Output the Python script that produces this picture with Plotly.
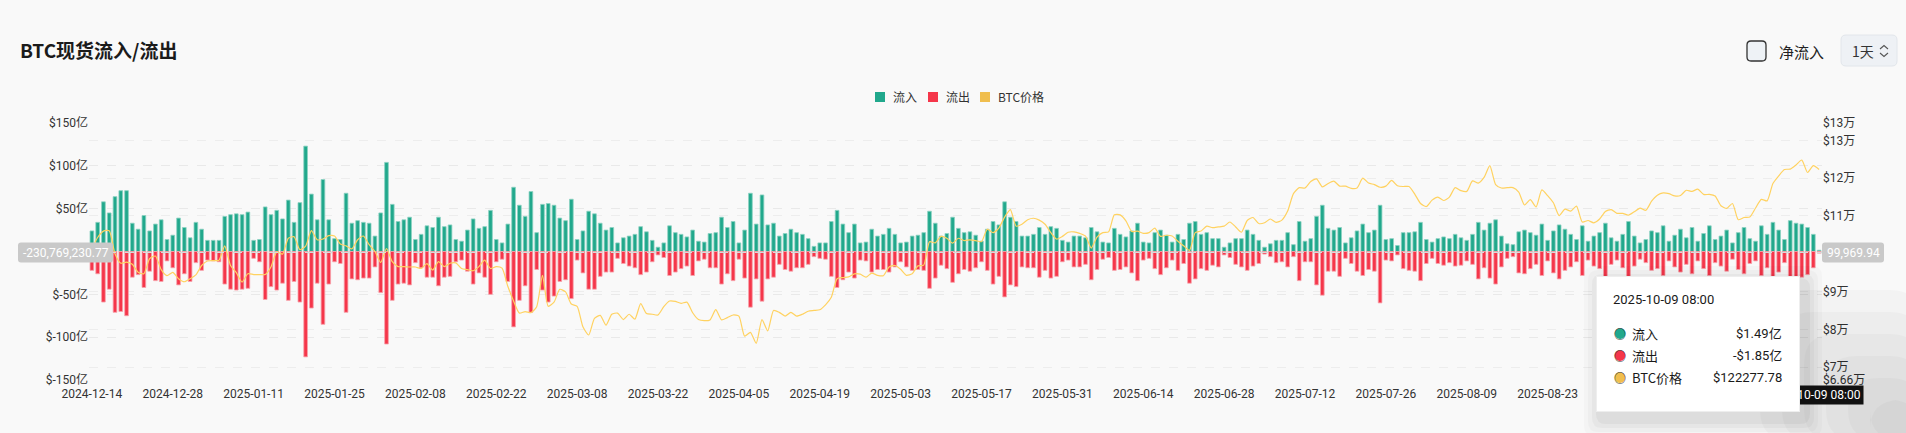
import plotly.graph_objects as go
import pandas as pd

# ---------------- data ----------------
dates = pd.date_range("2024-12-14", "2025-10-09", freq="D").strftime("%Y-%m-%d").tolist()

# inflow / outflow in 亿 USD
inflow = [
    24, 34, 58, 45, 64, 71, 71, 33, 26, 42, 24, 32, 37, 14, 19, 39, 28, 16, 34, 26,
    13, 13, 13, 41, 43, 44, 43, 46, 13, 14, 52, 43,
    48, 38, 60, 34, 57, 123, 67, 37, 84, 37, 15, 14, 68, 33, 36, 34, 33, 18, 45, 104,
    55, 35, 37, 40, 14, 20, 30, 28, 40, 29, 31, 14, 12, 25, 38,
    27, 29, 48, 14, 10, 32, 75, 54, 41, 70, 22, 55, 56, 54, 39, 36, 61, 14, 24, 47,
    44, 33, 25, 28, 10, 16, 18, 20, 29, 23, 13, 5, 10, 30, 22, 20,
    17, 25, 12, 11, 21, 22, 40, 28, 35, 10, 25, 68, 32, 66, 31, 33, 18, 21, 26, 22,
    20, 15, 6, 10, 10, 35, 48, 32, 22, 32, 10, 11, 26, 18, 20,
    27, 20, 10, 11, 18, 19, 22, 47, 33, 18, 21, 40, 27, 22, 23, 19, 12, 26, 35, 31,
    58, 40, 35, 18, 18, 20, 28, 20, 29, 27, 13, 11, 18, 18, 16, 28,
    23, 11, 10, 27, 20, 17, 24, 33, 11, 10, 22, 25, 19, 11, 20, 14, 33, 35, 20, 22,
    15, 15, 5, 10, 15, 15, 25, 20, 13, 5, 9, 13, 13, 22, 8,
    35, 12, 15, 41, 54, 27, 25, 28, 10, 16, 24, 32, 22, 25, 54, 14, 15, 7, 22, 22,
    23, 34, 14, 11, 15, 17, 15, 20, 16, 13, 20, 34, 25, 33, 37, 18,
    9, 8, 23, 25, 22, 19, 32, 13, 24, 31, 26,
    20, 14, 30, 12, 18, 22, 33, 16, 12, 20, 35, 18, 10, 14, 24, 22, 30, 12, 19, 26,
    16, 28, 12, 21, 30, 14, 18, 25, 10, 22, 28, 15, 12, 30, 20, 34, 25, 14, 36, 33,
    32, 28, 20, 1.49,
]
outflow = [
    -22, -26, -59, -44, -71, -70, -75, -30, -27, -42, -23, -34, -35, -11, -19, -39, -26, -35, -13, -22,
    -10, -11, -12, -38, -44, -45, -44, -43, -8, -12, -56, -41,
    -45, -37, -57, -35, -59, -123, -66, -37, -85, -38, -12, -14, -71, -32, -33, -31, -31, -18, -48, -108,
    -57, -38, -37, -39, -13, -19, -30, -30, -40, -30, -29, -12, -10, -23, -38,
    -25, -30, -50, -12, -9, -35, -88, -57, -40, -71, -21, -45, -59, -52, -35, -33, -55, -10, -25, -44,
    -44, -29, -24, -24, -8, -14, -17, -19, -27, -24, -12, -4, -7, -28, -24, -20,
    -17, -28, -11, -9, -19, -19, -38, -26, -34, -9, -31, -65, -32, -58, -32, -30, -15, -21, -23, -19,
    -19, -15, -6, -8, -9, -29, -42, -33, -24, -31, -10, -11, -24, -21, -21,
    -24, -18, -12, -18, -22, -21, -22, -43, -31, -16, -20, -36, -26, -21, -23, -19, -12, -22, -38, -29,
    -53, -39, -41, -18, -19, -19, -30, -22, -31, -29, -12, -10, -18, -18, -15, -33,
    -21, -9, -7, -22, -21, -18, -25, -34, -10, -8, -20, -27, -19, -10, -22, -14, -37, -32, -20, -22,
    -16, -18, -4, -7, -15, -18, -22, -17, -14, -3, -6, -13, -12, -18, -6,
    -34, -12, -12, -39, -51, -23, -23, -29, -8, -14, -23, -28, -21, -23, -60, -10, -11, -4, -20, -22,
    -23, -34, -14, -8, -14, -16, -13, -17, -16, -11, -15, -32, -19, -31, -38, -18,
    -8, -6, -25, -26, -20, -15, -28, -11, -25, -32, -22,
    -18, -12, -28, -10, -17, -20, -30, -15, -10, -19, -32, -17, -9, -13, -22, -20, -28, -11, -18, -24,
    -15, -26, -11, -20, -28, -13, -17, -23, -9, -21, -26, -14, -11, -28, -19, -31, -24, -13, -34, -31,
    -30, -27, -19, -1.85,
]
# BTC price in thousands USD
price_k = [
    101.4, 104.3, 106.0, 106.1, 100.0, 97.5, 97.8, 97.2, 95.1, 94.7, 98.7, 99.4, 95.8, 94.2, 95.1, 93.4, 92.6, 93.4,
    94.4, 96.9, 98.1, 98.2, 98.3, 102.1, 96.9, 95.0, 92.5, 94.7, 94.5, 94.5, 94.5, 96.5, 100.5, 99.9, 104.1, 104.5,
    101.1, 102.0, 106.1, 103.7, 103.9, 104.8, 104.7, 102.6, 102.1, 101.3, 103.7, 104.7, 102.4,
    100.6, 97.7, 101.4, 97.9, 96.6, 96.6, 96.5, 96.5, 96.1, 97.4, 95.7, 97.9, 96.6, 97.5, 97.6, 96.1, 95.8, 95.5,
    96.6, 98.3, 96.1, 96.6, 96.2, 91.4, 87.5, 84.3, 84.7, 84.4,
    86.0, 94.3, 86.1, 87.2, 90.6, 89.9, 86.7, 86.1, 80.7, 78.5, 82.9, 83.7, 81.1, 84.0, 84.3, 82.6, 84.0, 82.7,
    86.8, 84.2, 84.0, 83.8, 86.0, 87.5, 87.4, 86.9, 87.2, 84.4, 82.6, 82.3, 82.5,
    85.2, 82.5, 83.1, 83.8, 83.5, 78.2, 79.2, 76.3, 82.6, 79.6, 85.0, 84.5, 83.5, 84.5, 83.5, 84.0, 84.8, 85.0,
    85.2, 86.5, 88.5, 93.4, 93.7, 93.9, 94.7, 94.6, 93.8, 94.9, 94.3, 94.2,
    96.5, 96.9, 95.9, 94.3, 94.7, 96.8, 97.0, 103.2, 102.9, 104.6, 104.1, 102.8, 104.1, 103.5, 103.7, 103.5, 103.2,
    106.5, 105.6, 106.8, 109.7, 111.7, 107.3, 107.8, 109.0, 109.4, 108.9, 107.8, 105.6, 103.9, 104.6,
    105.7, 105.8, 105.4, 104.7, 101.5, 104.4, 105.6, 105.8, 110.3, 110.3, 108.7, 105.9, 106.0, 105.4, 105.6, 106.8,
    104.6, 104.9, 104.7, 103.3, 102.1, 100.9, 105.6, 106.0, 107.3, 106.9, 107.1, 107.3, 108.4, 107.1,
    105.7, 108.8, 109.6, 108.0, 108.2, 109.2, 108.3, 108.9, 111.3, 115.9, 117.5, 117.4, 119.1, 119.8, 117.7, 118.6,
    119.2, 117.9, 117.9, 117.3, 117.4, 120.0, 118.7, 118.3, 117.6, 117.9, 119.4, 118.0, 117.8, 117.8, 115.8,
    113.3, 112.5, 114.2, 115.0, 114.1, 115.0, 117.5, 116.7, 116.5, 119.3, 118.7, 120.2, 123.3, 118.3, 117.4, 117.5,
    117.5, 116.3, 112.9, 114.3, 112.4, 116.9, 115.4, 113.5, 110.1, 111.8, 111.3, 112.6, 108.4, 108.8, 108.2,
    109.2, 111.2, 111.7, 110.7, 110.7, 110.2, 111.1, 112.1, 111.5, 113.9, 115.5, 116.1, 115.9, 115.3, 115.4, 116.8,
    116.5, 117.1, 115.7, 115.7, 115.3, 112.7, 112.0, 113.3, 109.0, 109.6, 109.7, 112.1, 114.4, 114.0,
    118.6, 120.6, 122.3, 122.4, 123.5, 124.8, 121.5, 123.3, 122.27778,
]
price = [p * 1000 for p in price_k]

x_tick_labels = dates[0:253:14]
left_tickvals = [-150, -100, -50, 0, 50, 100, 150]
left_ticktext = ["$-150亿", "$-100亿", "$-50亿", "", "$50亿", "$100亿", "$150亿"]
right_tickvals = [66600, 70000, 80000, 90000, 100000, 110000, 120000, 130000, 134600]
right_ticktext = ["$6.66万", "$7万", "$8万", "$9万", "", "$11万", "$12万", "$13万", "$13万"]

title_text = "BTC现货流入/流出"
legend_items = [("流入", "#21A88C"), ("流出", "#F5364A"), ("BTC价格", "#F0BE4E")]
tooltip_date = "2025-10-09 08:00"
tooltip_rows = [("流入", "$1.49亿", "#21A88C"), ("流出", "-$1.85亿", "#F5364A"), ("BTC价格", "$122277.78", "#F0BE4E")]

GREEN = "#21A88C"
RED = "#F5364A"
YELLOW = "#FFD260"
BG = "#F9F9F9"
CJK = "Noto Sans CJK SC"
NUMF = "Roboto, Noto Sans CJK SC"

# ---------------- geometry helpers ----------------
W, H = 1906, 433
L, R, T, B = 89, 1822, 123, 380


def px(x):
    return (x - L) / (R - L)


def py(y):
    return (B - y) / (B - T)


def rrect(x0, y0, x1, y1, r):
    """rounded rectangle path in paper coords, inputs in pixels"""
    pts = [
        f"M {px(x0 + r)} {py(y0)}",
        f"L {px(x1 - r)} {py(y0)}",
        f"Q {px(x1)} {py(y0)} {px(x1)} {py(y0 + r)}",
        f"L {px(x1)} {py(y1 - r)}",
        f"Q {px(x1)} {py(y1)} {px(x1 - r)} {py(y1)}",
        f"L {px(x0 + r)} {py(y1)}",
        f"Q {px(x0)} {py(y1)} {px(x0)} {py(y1 - r)}",
        f"L {px(x0)} {py(y0 + r)}",
        f"Q {px(x0)} {py(y0)} {px(x0 + r)} {py(y0)}",
        "Z",
    ]
    return " ".join(pts)


shapes = []
annotations = []


def add_text(x, y, text, size=12, color="#333", anchor="left", family=CJK, bold=False, **kw):
    if bold:
        text = f"<b>{text}</b>"
    d = dict(xref="paper", yref="paper", x=px(x), y=py(y), text=text, showarrow=False,
             xanchor=anchor, yanchor="middle", font=dict(size=size, color=color, family=family))
    d.update(kw)
    annotations.append(d)


# ---------------- figure ----------------
fig = go.Figure()
fig.add_trace(go.Bar(
    x=dates, y=inflow, name="流入", width=0.64,
    marker=dict(color=GREEN, line=dict(color="#8BD2C2", width=0.8)),
))
fig.add_trace(go.Bar(
    x=dates, y=outflow, name="流出", width=0.64,
    marker=dict(color=RED, line=dict(color="#F7A3AC", width=0.8)),
))
fig.add_trace(go.Scatter(
    x=dates, y=price, name="BTC价格", yaxis="y2", mode="lines",
    line=dict(color=YELLOW, width=1.2, shape="spline", smoothing=0.6),
))

ZY = 252.5
# crosshair horizontal dashed line
shapes.append(dict(type="line", xref="paper", yref="paper", x0=0, x1=1, y0=py(ZY), y1=py(ZY),
                   line=dict(color="#D9D9D9", width=1.2, dash="dash"), layer="above"))

# title
add_text(18, 50, title_text, size=19, color="#1B1B1B", bold=True)

# checkbox + 净流入
shapes.append(dict(type="path", xref="paper", yref="paper", path=rrect(1747, 41, 1766, 61, 4),
                   fillcolor="#EEF2F6", line=dict(color="#333333", width=1.3)))
add_text(1777, 51, "净流入", size=15, color="#222")
# 1天 button
shapes.append(dict(type="path", xref="paper", yref="paper", path=rrect(1841, 35, 1897, 66, 5),
                   fillcolor="#EEF1F5", line=dict(color="#E2E6EB", width=1)))
add_text(1850, 51, "1天", size=14, color="#333")
shapes.append(dict(type="path", xref="paper", yref="paper",
                   path=f"M {px(1880)} {py(49)} L {px(1884)} {py(45.5)} L {px(1888)} {py(49)}",
                   line=dict(color="#555", width=1.1)))
shapes.append(dict(type="path", xref="paper", yref="paper",
                   path=f"M {px(1880)} {py(53)} L {px(1884)} {py(56.5)} L {px(1888)} {py(53)}",
                   line=dict(color="#555", width=1.1)))

# custom legend
leg_x = [875, 928, 980]
for (name, col), lx in zip(legend_items, leg_x):
    shapes.append(dict(type="rect", xref="paper", yref="paper", x0=px(lx), x1=px(lx + 10),
                       y0=py(92), y1=py(102), fillcolor=col, line=dict(color=col, width=0)))
    add_text(lx + 16, 97, name, size=12, color="#333")

# crosshair axis labels
shapes.append(dict(type="path", xref="paper", yref="paper", path=rrect(18, ZY - 10, 113, ZY + 10, 3),
                   fillcolor="#C9C9C9", line=dict(width=0), layer="above"))
add_text(65.5, ZY, "-230,769,230.77", size=12, color="#FFFFFF", anchor="center", family=NUMF)
shapes.append(dict(type="path", xref="paper", yref="paper", path=rrect(1822, ZY - 10, 1884, ZY + 10, 3),
                   fillcolor="#C9C9C9", line=dict(width=0), layer="above"))
add_text(1853, ZY, "99,969.94", size=12, color="#FFFFFF", anchor="center", family=NUMF)

# soft grey glow in bottom-right corner (tooltip shadow)
for i in range(6):
    shapes.append(dict(type="path", xref="paper", yref="paper",
                       path=rrect(1760 + i * 22, 290 + i * 22, 1920, 440, 30),
                       fillcolor="rgba(0,0,0,0.022)", line=dict(width=0), layer="above"))
# tooltip shadow
for i, a in enumerate([0.02, 0.025, 0.03, 0.04]):
    g = 16 - i * 4
    shapes.append(dict(type="path", xref="paper", yref="paper",
                       path=rrect(1596 - g + 4, 276 - g + 6, 1800 + g + 6, 412 + g + 8, 10),
                       fillcolor=f"rgba(0,0,0,{a})", line=dict(width=0), layer="above"))

# bottom crosshair date label (drawn before the tooltip so the tooltip covers its left part)
add_text(1813.5, 394.5, tooltip_date, size=12, color="#FFFFFF", anchor="center", family=NUMF,
         bgcolor="#111111", borderpad=2)

# tooltip box (as annotation so it sits above the date label)
annotations.append(dict(xref="paper", yref="paper", x=px(1596), y=py(276), xanchor="left", yanchor="top",
                        text=" ", showarrow=False, width=202, height=134, bgcolor="#FFFFFF",
                        bordercolor="#EEEEEE", borderwidth=1, borderpad=0))
add_text(1611, 299, tooltip_date, size=13, color="#1A1A1A", family=NUMF)
row_y = [333, 355, 377]
for (lab, val, col), ry in zip(tooltip_rows, row_y):
    add_text(1619.5, ry, "●", size=12, color=col, anchor="center")
    add_text(1619.5, ry, "○", size=12, color="#333", anchor="center")
    add_text(1630, ry, lab, size=13, color="#1A1A1A")
    add_text(1784, ry, val, size=13, color="#1A1A1A", anchor="right", family=NUMF)

fig.update_layout(
    width=W, height=H,
    margin=dict(l=L, r=W - R, t=T, b=H - B, pad=0),
    paper_bgcolor=BG, plot_bgcolor=BG,
    showlegend=False, barmode="overlay",
    font=dict(family=NUMF, size=12, color="#333"),
    xaxis=dict(type="category", range=[-0.5, 299.5], tickmode="array",
               tickvals=x_tick_labels, ticktext=x_tick_labels, showgrid=False,
               showline=False, zeroline=False, ticks="", tickangle=0, ticklabelstandoff=5,
               tickfont=dict(size=12, color="#333", family=NUMF)),
    yaxis=dict(range=[-150, 150], tickmode="array", tickvals=left_tickvals,
               ticktext=left_ticktext, showgrid=True, gridcolor="#E9E9E9", griddash="dash",
               gridwidth=1, zeroline=False, showline=False, ticks="",
               tickfont=dict(size=12, color="#333", family=NUMF)),
    yaxis2=dict(range=[66600, 134600], overlaying="y", side="right", tickmode="array",
                tickvals=right_tickvals, ticktext=right_ticktext, showgrid=True,
                gridcolor="#EDEDED", griddash="dash", gridwidth=1, zeroline=False,
                showline=False, ticks="", tickfont=dict(size=12, color="#333", family=NUMF)),
    shapes=shapes, annotations=annotations,
)

fig.write_html("out.html", config={"displayModeBar": False},
               post_script="document.body.style.margin='0';document.body.style.overflow='hidden';")
